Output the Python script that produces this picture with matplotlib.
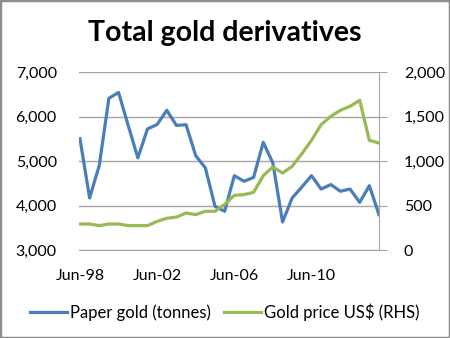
import numpy as np
import matplotlib.pyplot as plt

plt.rcParams['font.family'] = ['Lato', 'DejaVu Sans']

# half-yearly observations, Jun-98 .. Dec-13
periods = ['Jun-98', 'Dec-98', 'Jun-99', 'Dec-99', 'Jun-00', 'Dec-00', 'Jun-01', 'Dec-01',
           'Jun-02', 'Dec-02', 'Jun-03', 'Dec-03', 'Jun-04', 'Dec-04', 'Jun-05', 'Dec-05',
           'Jun-06', 'Dec-06', 'Jun-07', 'Dec-07', 'Jun-08', 'Dec-08', 'Jun-09', 'Dec-09',
           'Jun-10', 'Dec-10', 'Jun-11', 'Dec-11', 'Jun-12', 'Dec-12', 'Jun-13', 'Dec-13']
paper_gold = [5500, 4170, 4900, 6410, 6540, 5800, 5070, 5720,
              5820, 6140, 5800, 5815, 5120, 4845, 3980, 3870,
              4670, 4545, 4630, 5420, 4955, 3630, 4170, 4415,
              4670, 4370, 4470, 4320, 4370, 4070, 4445, 3795]
gold_price = [292, 292, 274, 292, 292, 274, 274, 274,
              322, 356, 370, 416, 397, 435, 435, 513,
              614, 622, 648, 835, 933, 865, 940, 1082,
              1232, 1408, 1502, 1570, 1614, 1682, 1232, 1202]
tick_idx = [0, 8, 16, 24]

blue = '#4A7EBB'
green = '#98B954'
grid_col = '#A6A6A6'

fig = plt.figure(figsize=(4.5, 3.38), dpi=100)
ax = fig.add_axes([79/450, 1-250/338, 300/450, 178/338])
ax2 = ax.twinx()

x = np.arange(len(periods))
ax.plot(x, paper_gold, color=blue, lw=2.3, solid_joinstyle='round', zorder=3)
ax2.plot(x, gold_price, color=green, lw=2.3, solid_joinstyle='round', zorder=3)

ax.set_xlim(-0.1, len(periods) - 1)
ax.set_ylim(3000, 7000)
ax2.set_ylim(0, 2000)
ax.set_yticks(range(3000, 7001, 1000))
ax2.set_yticks(range(0, 2001, 500))
ax.set_yticklabels([f'{v:,}' for v in range(3000, 7001, 1000)])
ax2.set_yticklabels([f'{v:,}' for v in range(0, 2001, 500)])
ax.set_xticks(tick_idx)
ax.set_xticklabels([periods[i] for i in tick_idx])

ax.grid(axis='y', color=grid_col, lw=1)
ax.set_axisbelow(True)
for a in (ax, ax2):
    for s in a.spines.values():
        s.set_visible(False)
ax2.spines['right'].set_visible(True)
ax2.spines['right'].set_color(grid_col)
ax.spines['bottom'].set_visible(True)
ax.spines['bottom'].set_color(grid_col)

ax.tick_params(axis='y', length=0, pad=16, labelsize=11.5)
ax.tick_params(axis='x', length=0, pad=14, labelsize=11.5)
ax2.tick_params(axis='y', length=6, color=grid_col, pad=12, labelsize=11.5)

fig.text(0.5, 1-33/338, 'Total gold derivatives', ha='center', va='center',
         fontsize=20.5, fontweight='bold')

handles = [plt.Line2D([], [], color=blue, lw=2.3), plt.Line2D([], [], color=green, lw=2.3)]
fig.legend(handles, ['Paper gold (tonnes)', 'Gold price US$ (RHS)'], loc='center',
           bbox_to_anchor=(0.5, 1-312/338), ncol=2, frameon=False, fontsize=12,
           handlelength=2.2, handletextpad=0.2, columnspacing=0.8)

fig.patches.append(plt.Rectangle((0, 0), 1, 1, transform=fig.transFigure, fill=False,
                                 edgecolor='#8C8C8C', lw=2.5))

fig.savefig('out.png', dpi=100)
